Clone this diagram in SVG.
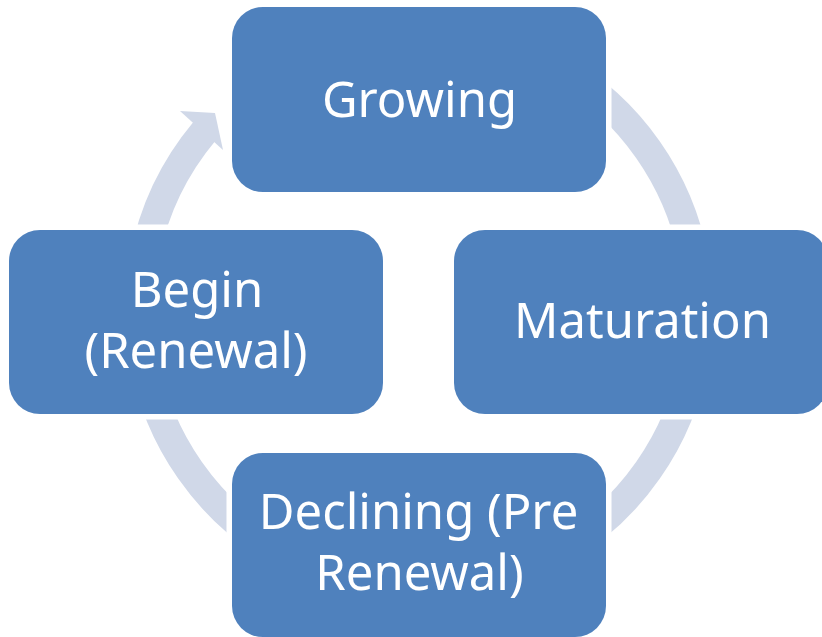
<svg xmlns="http://www.w3.org/2000/svg" width="822" height="637" viewBox="0 0 822 637">
  <style>
    .box { fill: #4F81BD; stroke: #FFFFFF; stroke-width: 11; paint-order: stroke; }
    .lbl { fill: #FFFFFF; font-family: "Noto Sans", "Open Sans", sans-serif; font-size: 49px; text-anchor: middle; }
    .arc { fill: none; stroke: #D0D8E8; stroke-width: 29; stroke-linecap: butt; }
  </style>
  <rect width="822" height="637" fill="#FFFFFF"/>
  <g id="connectors">
    <path class="arc" d="M558.8,68 A279.5,279.5 0 0 1 694.3,261.5"/>
    <path class="arc" d="M694.3,358.5 A279.5,279.5 0 0 1 558.8,552"/>
    <path class="arc" d="M279.3,552 A279.5,279.5 0 0 1 143.7,358.5"/>
    <path class="arc" d="M143.7,261.5 A279.5,279.5 0 0 1 204.5,131.2"/>
    <polygon points="180,111 215,113 223,150" fill="#D0D8E8"/>
  </g>
  <g id="node-growing">
    <rect class="box" x="232" y="7" width="374" height="185" rx="31" ry="31"/>
    <text class="lbl" x="419.5" y="117">Growing</text>
  </g>
  <g id="node-maturation">
    <rect class="box" x="454" y="230" width="374" height="184" rx="31" ry="31"/>
    <text class="lbl" x="642.5" y="338">Maturation</text>
  </g>
  <g id="node-declining">
    <rect class="box" x="232" y="453" width="374" height="184" rx="31" ry="31"/>
    <text class="lbl" x="418.5" y="529">Declining (Pre</text>
    <text class="lbl" x="419.5" y="590">Renewal)</text>
  </g>
  <g id="node-begin">
    <rect class="box" x="9" y="230" width="374" height="184" rx="31" ry="31"/>
    <text class="lbl" x="197" y="307">Begin</text>
    <text class="lbl" x="196" y="368">(Renewal)</text>
  </g>
</svg>
